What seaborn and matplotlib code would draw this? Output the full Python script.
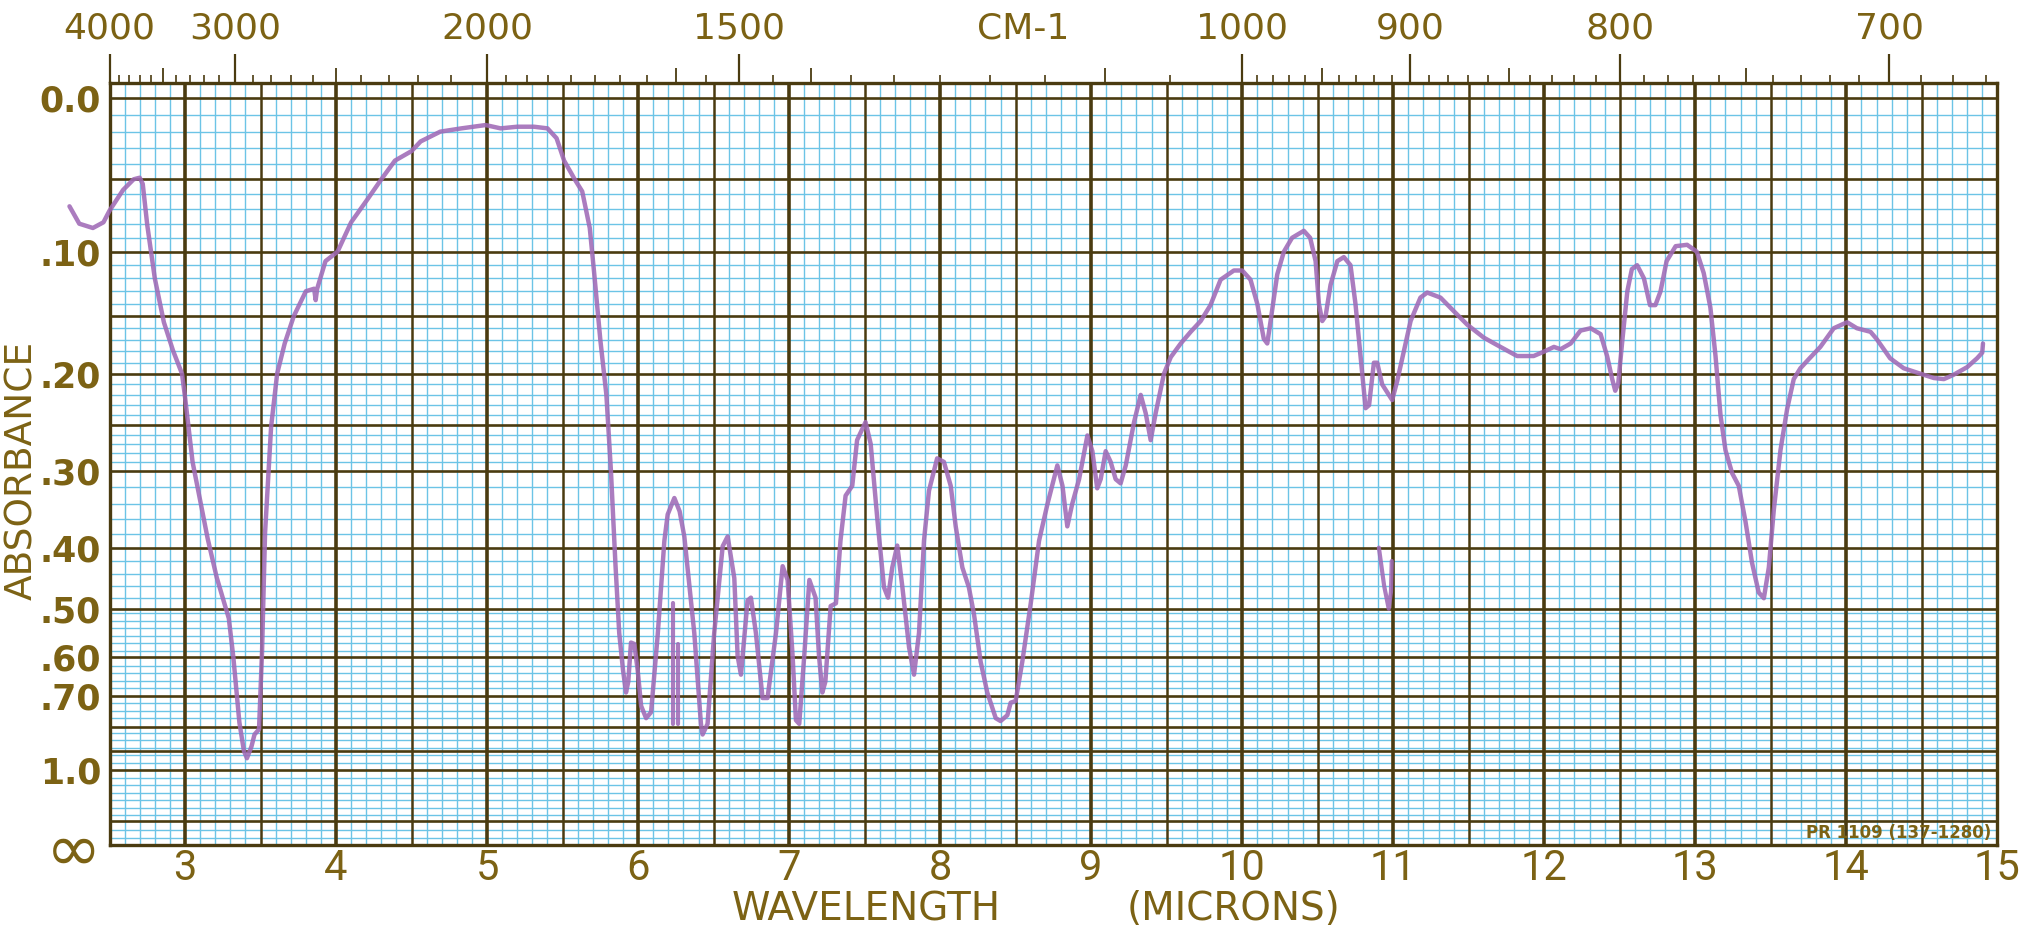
import numpy as np
import pandas as pd
import matplotlib
matplotlib.use("Agg")
import matplotlib.pyplot as plt
import seaborn as sns
from matplotlib import transforms

# ---------------- data ----------------
wavelength_um = [
    2.235, 2.30, 2.39, 2.46, 2.50, 2.59, 2.66, 2.70, 2.72, 2.75, 2.80, 2.86, 2.92, 2.98,
    3.00, 3.05, 3.10, 3.15, 3.21, 3.29, 3.32, 3.36, 3.39, 3.41, 3.44, 3.46, 3.49, 3.51,
    3.53, 3.57, 3.61, 3.66, 3.72, 3.80, 3.855, 3.865, 3.875, 3.93, 4.01, 4.10, 4.21,
    4.30, 4.39, 4.50, 4.56, 4.69, 4.83, 4.99, 5.09, 5.20, 5.31, 5.40, 5.46, 5.51, 5.58,
    5.63, 5.68, 5.71, 5.75, 5.79, 5.82, 5.85, 5.875, 5.90, 5.92, 5.935, 5.953, 5.975,
    5.997, 6.02, 6.053, 6.086, 6.13, 6.174, 6.196, 6.24, 6.275, 6.306, 6.372, 6.416,
    6.427, 6.46, 6.504, 6.56, 6.593, 6.637, 6.659, 6.681, 6.725, 6.747, 6.78, 6.824,
    6.857, 6.913, 6.957, 6.99, 7.023, 7.045, 7.067, 7.10, 7.134, 7.175, 7.198, 7.22,
    7.24, 7.275, 7.31, 7.34, 7.374, 7.418, 7.45, 7.506, 7.54, 7.584, 7.628, 7.655,
    7.683, 7.716, 7.75, 7.794, 7.827, 7.86, 7.893, 7.926, 7.98, 8.025, 8.07, 8.103,
    8.147, 8.19, 8.224, 8.268, 8.312, 8.368, 8.40, 8.445, 8.467, 8.50, 8.544, 8.60,
    8.655, 8.71, 8.776, 8.81, 8.842, 8.875, 8.92, 8.975, 9.008, 9.04, 9.063, 9.096,
    9.129, 9.162, 9.195, 9.229, 9.284, 9.328, 9.361, 9.394, 9.427, 9.482, 9.527,
    9.593, 9.659, 9.725, 9.79, 9.857, 9.945, 10.0, 10.055, 10.10, 10.143, 10.166,
    10.188, 10.232, 10.276, 10.33, 10.408, 10.45, 10.486, 10.508, 10.53, 10.552,
    10.585, 10.63, 10.673, 10.717, 10.75, 10.784, 10.817, 10.84, 10.872, 10.894,
    10.927, 10.971, 10.993, 11.026, 11.07, 11.115, 11.18, 11.225, 11.313, 11.402,
    11.49, 11.60, 11.71, 11.82, 11.93, 12.00, 12.064, 12.108, 12.175, 12.24, 12.307,
    12.373, 12.416, 12.45, 12.47, 12.49, 12.515, 12.55, 12.58, 12.615, 12.66, 12.70,
    12.736, 12.77, 12.81, 12.87, 12.946, 13.01, 13.056, 13.10, 13.134, 13.167, 13.20,
    13.244, 13.288, 13.332, 13.376, 13.42, 13.454, 13.487, 13.52, 13.564, 13.608,
    13.652, 13.696, 13.75, 13.828, 13.917, 14.005, 14.07, 14.16, 14.20, 14.29, 14.38,
    14.49, 14.58, 14.646, 14.71, 14.80, 14.866, 14.90, 14.905,
]
absorbance = [
    0.068, 0.080, 0.083, 0.079, 0.071, 0.057, 0.050, 0.049, 0.053, 0.081, 0.120, 0.155, 0.179, 0.200,
    0.222, 0.290, 0.336, 0.387, 0.446, 0.518, 0.600, 0.785, 0.900, 0.935, 0.880, 0.830, 0.810, 0.587,
    0.379, 0.252, 0.200, 0.173, 0.150, 0.130, 0.128, 0.137, 0.128, 0.107, 0.100, 0.079, 0.063,
    0.050, 0.038, 0.032, 0.026, 0.020, 0.018, 0.016, 0.018, 0.017, 0.017, 0.018, 0.024, 0.038, 0.050,
    0.058, 0.083, 0.117, 0.170, 0.220, 0.300, 0.425, 0.547, 0.630, 0.690, 0.660, 0.567, 0.570,
    0.630, 0.730, 0.770, 0.750, 0.550, 0.390, 0.354, 0.333, 0.350, 0.384, 0.547, 0.790,
    0.830, 0.790, 0.547, 0.398, 0.384, 0.447, 0.597, 0.642, 0.485, 0.480, 0.547, 0.706,
    0.706, 0.547, 0.428, 0.450, 0.597, 0.777, 0.790, 0.597, 0.450, 0.480, 0.597, 0.690,
    0.660, 0.495, 0.490, 0.390, 0.330, 0.318, 0.266, 0.247, 0.270, 0.360, 0.462, 0.480,
    0.430, 0.397, 0.462, 0.577, 0.642, 0.547, 0.390, 0.324, 0.286, 0.290, 0.318, 0.370,
    0.430, 0.462, 0.510, 0.610, 0.690, 0.770, 0.780, 0.760, 0.720, 0.715, 0.610, 0.490,
    0.390, 0.341, 0.294, 0.318, 0.370, 0.340, 0.310, 0.261, 0.278, 0.321, 0.310, 0.278,
    0.290, 0.310, 0.315, 0.294, 0.247, 0.220, 0.238, 0.266, 0.238, 0.200, 0.185,
    0.173, 0.163, 0.154, 0.141, 0.121, 0.114, 0.114, 0.121, 0.140, 0.169, 0.173,
    0.154, 0.117, 0.100, 0.090, 0.085, 0.090, 0.107, 0.140, 0.154, 0.150,
    0.125, 0.107, 0.104, 0.110, 0.140, 0.185, 0.233, 0.230, 0.190, 0.190,
    0.210, 0.220, 0.225, 0.207, 0.180, 0.154, 0.135, 0.131, 0.135, 0.146,
    0.157, 0.168, 0.176, 0.184, 0.184, 0.180, 0.176, 0.178, 0.173, 0.162, 0.160,
    0.165, 0.184, 0.205, 0.216, 0.209, 0.173, 0.130, 0.113, 0.110, 0.120, 0.141,
    0.141, 0.130, 0.107, 0.096, 0.095, 0.100, 0.116, 0.143, 0.184, 0.240, 0.277,
    0.303, 0.318, 0.363, 0.423, 0.471, 0.481, 0.430, 0.348, 0.277, 0.234,
    0.205, 0.195, 0.187, 0.176, 0.160, 0.155, 0.160, 0.163, 0.169, 0.186, 0.195,
    0.200, 0.204, 0.205, 0.201, 0.194, 0.186, 0.181, 0.173,
]
# separate quick pen strokes
spike1_um = [6.228, 6.228]
spike1_abs = [0.49, 0.79]
spike2_um = [6.262, 6.262]
spike2_abs = [0.57, 0.79]
stroke3_um = [10.905, 10.94, 10.97, 10.985, 10.99]
stroke3_abs = [0.40, 0.46, 0.50, 0.47, 0.42]

x_tick_values = list(range(3, 16))
y_label_abs = [0.0, 0.10, 0.20, 0.30, 0.40, 0.50, 0.60, 0.70, 1.0]
y_label_text = ["0.0", ".10", ".20", ".30", ".40", ".50", ".60", ".70", "1.0"]
wn_major = [4000, 3000, 2000, 1500, 1000, 900, 800, 700]
wn_medium = [3500, 2500, 1600, 1400, 1100, 950, 850, 750]
wn_minor = ([3900, 3800, 3700, 3600, 3400, 3300, 3200, 3100,
             2900, 2800, 2700, 2600, 2400, 2300, 2200, 2100,
             1950, 1900, 1850, 1800, 1750, 1700, 1650, 1550,
             1450, 1350, 1300, 1250, 1200, 1150, 1050]
            + [v for v in range(990, 665, -10) if v not in (900, 800, 700, 950, 850, 750)])
major_abs_lines = [0.0, 0.05, 0.10, 0.15, 0.20, 0.25, 0.30, 0.40, 0.50, 0.60, 0.70, 0.80, 0.90, 1.0, 1.5]

# ---------------- style ----------------
sns.set_theme(style="white")
plt.rcParams["font.family"] = ["DejaVu Sans"]
GOLD = "#7c6214"
DARK = "#4a3b10"
BLUE = "#6cc4e6"
PEN = "#a06ab6"

fig = plt.figure(figsize=(20.26, 9.3), dpi=100)
fig.patch.set_facecolor("white")
ax = fig.add_axes([0.05405, 0.0914, 0.9318, 0.819])
ax.set_facecolor("white")

# ---- chart-paper grid ----
for x in np.round(np.arange(2.6, 15.0, 0.1), 2):
    if abs(x * 2 - round(x * 2)) > 1e-6:
        ax.axvline(x, color=BLUE, lw=1.0, zorder=1)
for x in np.arange(3.0, 15.0, 0.5):
    ax.axvline(x, color=DARK, lw=2.6 if abs(x - round(x)) < 1e-6 else 1.8, zorder=2)

minor_T = []
minor_T += [10 ** -a for a in np.arange(0.01, 0.30, 0.01)]
minor_T += [10 ** -a for a in np.arange(0.32, 0.50, 0.02)]
minor_T += list(np.arange(0.31, 0.0, -0.01))
major_T = [10 ** -a for a in major_abs_lines]
for t in minor_T:
    if min(abs(t - m) for m in major_T) > 0.003:
        ax.axhline(t, color=BLUE, lw=1.0, zorder=1)
for t in major_T:
    ax.axhline(t, color=DARK, lw=1.9, zorder=2)

# ---- spectrum ----
df = pd.DataFrame({"wavelength": wavelength_um,
                   "T": 10 ** (-np.asarray(absorbance))})
sns.lineplot(data=df, x="wavelength", y="T", sort=False, estimator=None,
             color=PEN, lw=3.2, alpha=0.88, ax=ax, clip_on=False, zorder=5)
for xs, ys in [(spike1_um, spike1_abs), (spike2_um, spike2_abs), (stroke3_um, stroke3_abs)]:
    d = pd.DataFrame({"wavelength": xs, "T": 10 ** (-np.asarray(ys))})
    sns.lineplot(data=d, x="wavelength", y="T", sort=False, estimator=None,
                 color=PEN, lw=3.0, alpha=0.88, ax=ax, zorder=5)

ax.set_xlim(2.5, 15)
ax.set_ylim(0, 1.0197)
ax.set_xlabel("")
ax.set_ylabel("")
for s in ax.spines.values():
    s.set_visible(True)
    s.set_color(DARK)
    s.set_linewidth(2.4)

# bottom ticks
ax.set_xticks(x_tick_values)
ax.set_xticklabels([str(v) for v in x_tick_values],
                   fontfamily=["Roboto", "DejaVu Sans"])
ax.tick_params(axis="x", length=0, pad=2, labelsize=30, labelcolor=GOLD)

# left ticks (absorbance labels on transmittance scale)
yt = [10 ** -a for a in y_label_abs] + [0.0]
ax.set_yticks(yt)
ax.set_yticklabels(y_label_text + ["\u221e"], fontweight="bold")
ax.tick_params(axis="y", length=0, pad=6, labelsize=25, labelcolor=GOLD)
ax.get_yticklabels()[-1].set_fontsize(48)
ax.get_yticklabels()[-1].set_fontweight("normal")


# top wavenumber scale
def to_wn(x):
    x = np.asarray(x, dtype=float)
    with np.errstate(divide="ignore", invalid="ignore"):
        return 1e4 / x


sec = ax.secondary_xaxis("top", functions=(to_wn, to_wn))
sec.set_xticks(wn_major)
sec.set_xticklabels([str(v) for v in wn_major])
sec.set_xticks(wn_minor, minor=True)
sec.tick_params(which="major", direction="out", length=21, width=1.6, color=DARK,
                pad=6, labelsize=26, labelcolor=GOLD)
sec.tick_params(which="minor", direction="out", length=6, width=1.2, color=DARK)
for s in sec.spines.values():
    s.set_visible(False)

sec2 = ax.secondary_xaxis("top", functions=(to_wn, to_wn))
sec2.set_xticks(wn_medium)
sec2.set_xticklabels([""] * len(wn_medium))
sec2.tick_params(which="major", direction="out", length=11, width=1.3, color=DARK)
sec2.set_xticks([], minor=True)
for s in sec2.spines.values():
    s.set_visible(False)

trans = transforms.blended_transform_factory(ax.transData, ax.transAxes)
ax.text(8.55, 1.05, "CM-1", transform=trans, ha="center", va="bottom",
        fontsize=26, color=GOLD)

ax.text(14.96, 0.016, "PR 1109 (137-1280)", ha="right", va="center",
        fontsize=12, color=GOLD, fontweight="bold", zorder=6)

fig.text(0.0112, 0.4946, "ABSORBANCE", rotation=90, ha="center", va="center",
         fontsize=27, color=GOLD)
fig.text(0.4274, 0.0105, "WAVELENGTH", ha="center", va="baseline",
         fontsize=28, color=GOLD)
fig.text(0.609, 0.0105, "(MICRONS)", ha="center", va="baseline",
         fontsize=28, color=GOLD)

fig.savefig("out.png", dpi=100, facecolor="white")
